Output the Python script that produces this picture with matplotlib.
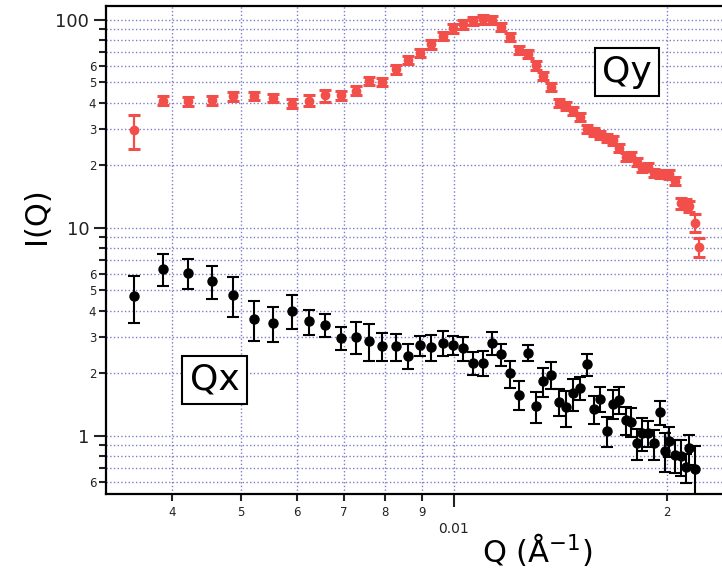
import matplotlib
matplotlib.use('Agg')
import matplotlib.pyplot as plt
from matplotlib.ticker import FixedLocator, FixedFormatter

# Q values (1/A); Qy has one more point at the high-Q end
q = [0.00354, 0.00388, 0.00421, 0.00455, 0.00488, 0.00522, 0.00556, 0.00590,
     0.00624, 0.00658, 0.00692, 0.00727, 0.00759, 0.00792, 0.00828, 0.00861,
     0.00895, 0.00929, 0.00964, 0.00998, 0.01031, 0.01065, 0.01098, 0.01131,
     0.01164, 0.01198, 0.01235, 0.01271, 0.01305, 0.01334, 0.01371, 0.01407,
     0.01439, 0.01472, 0.01506, 0.01540, 0.01578, 0.01609, 0.01643, 0.01678,
     0.01711, 0.01746, 0.01779, 0.01812, 0.01845, 0.01881, 0.01915, 0.01954,
     0.01985, 0.02013, 0.02051, 0.02089, 0.02123, 0.02148, 0.02189, 0.02219]

qy_I = [29.4, 40.9, 40.5, 41.1, 42.8, 43.0, 42.2, 39.5, 40.9, 43.3, 43.3, 45.6,
        50.9, 50.3, 57.7, 64.0, 69.2, 76.1, 83.8, 90.8, 94.9, 98.6, 100.3, 100.0,
        92.2, 82.6, 71.7, 68.4, 60.3, 53.6, 47.5, 39.9, 38.6, 36.6, 34.1, 29.8,
        29.0, 28.0, 27.0, 26.3, 24.2, 21.9, 22.2, 20.8, 19.4, 19.7, 18.3, 18.2,
        18.2, 18.1, 16.8, 13.1, 13.0, 12.7, 10.6, 8.07]
qy_err = [5.6, 2.0, 2.0, 2.0, 2.0, 2.0, 2.0, 2.0, 2.4, 2.9, 2.2, 2.2, 2.4, 2.4,
          2.6, 2.9, 3.1, 3.4, 3.8, 4.1, 4.3, 4.4, 4.5, 4.5, 4.1, 3.7, 3.2, 3.1,
          2.7, 2.4, 2.1, 1.8, 1.7, 1.6, 1.5, 1.3, 1.3, 1.3, 1.2, 1.2, 1.1, 1.0,
          1.0, 0.95, 0.9, 0.9, 0.85, 0.85, 0.85, 0.85, 0.8, 0.75, 0.75, 0.75,
          1.1, 0.85]

qx_I = [4.68, 6.37, 6.06, 5.54, 4.76, 3.65, 3.49, 4.00, 3.55, 3.42, 2.97, 3.00,
        2.87, 2.71, 2.69, 2.42, 2.72, 2.67, 2.81, 2.74, 2.64, 2.25, 2.25, 2.80,
        2.47, 2.00, 1.58, 2.51, 1.39, 1.83, 1.97, 1.46, 1.37, 1.60, 1.70, 2.21,
        1.35, 1.51, 1.06, 1.43, 1.49, 1.19, 1.17, 0.92, 1.03, 1.03, 0.92, 1.30,
        0.85, 0.95, 0.81, 0.80, 0.71, 0.87, 0.69]
qx_err = [1.18, 1.1, 1.0, 1.0, 1.02, 0.78, 0.66, 0.75, 0.5, 0.44, 0.38, 0.52,
          0.57, 0.41, 0.41, 0.33, 0.3, 0.37, 0.4, 0.29, 0.36, 0.28, 0.3, 0.35,
          0.31, 0.3, 0.25, 0.23, 0.24, 0.3, 0.29, 0.22, 0.27, 0.28, 0.21, 0.26,
          0.21, 0.21, 0.175, 0.23, 0.22, 0.185, 0.185, 0.155, 0.185, 0.15, 0.15,
          0.17, 0.18, 0.155, 0.15, 0.157, 0.113, 0.143, 0.2]

y_major = [1, 10, 100]
y_minor = [m * d for d in (0.1, 1, 10) for m in range(2, 10)]
y_minor_lab = ['%d' % m if m <= 6 else '' for d in (0.1, 1, 10) for m in range(2, 10)]
x_major = [0.01]
x_minor = [0.004, 0.005, 0.006, 0.007, 0.008, 0.009, 0.02]
x_minor_lab = ['4', '5', '6', '7', '8', '9', '2']

red = '#f24e4a'

fig = plt.figure(figsize=(7.22, 5.71), dpi=100)
ax = fig.add_axes([0.1468, 0.1349, 0.8532, 0.8546])
ax.set_xscale('log')
ax.set_yscale('log')

ax.errorbar(q, qy_I, yerr=qy_err, fmt='o', color=red, ms=6, capsize=4.5,
            elinewidth=1.6, capthick=2.2, zorder=3)
ax.errorbar(q[:len(qx_I)], qx_I, yerr=qx_err, fmt='o', color='black', ms=6.5,
            capsize=4.5, elinewidth=1.5, capthick=1.5, zorder=3)

ax.set_xlim(0.003228, 0.02389)
ax.set_ylim(0.526, 116.4)

ax.yaxis.set_major_locator(FixedLocator(y_major))
ax.yaxis.set_major_formatter(FixedFormatter(['1', '10', '100']))
ax.yaxis.set_minor_locator(FixedLocator(y_minor))
ax.yaxis.set_minor_formatter(FixedFormatter(y_minor_lab))
ax.xaxis.set_major_locator(FixedLocator(x_major))
ax.xaxis.set_major_formatter(FixedFormatter(['0.01']))
ax.xaxis.set_minor_locator(FixedLocator(x_minor))
ax.xaxis.set_minor_formatter(FixedFormatter(x_minor_lab))

ax.tick_params(axis='y', which='major', length=9, width=1.5, labelsize=13, pad=3,
               colors='#222222')
ax.tick_params(axis='y', which='minor', length=5, width=1.5, labelsize=8.5, pad=2,
               colors='#222222')
ax.tick_params(axis='x', which='major', length=9, width=1.5, labelsize=10, pad=11,
               colors='#222222')
ax.tick_params(axis='x', which='minor', length=5, width=1.5, labelsize=8.5, pad=4,
               colors='#222222')

ax.grid(which='both', ls=':', color='#7c7cc8', lw=1)
ax.set_axisbelow(True)
for s in ['left', 'top', 'bottom']:
    ax.spines[s].set_linewidth(1.6)
ax.spines['right'].set_visible(False)

ax.set_ylabel('I(Q)', fontsize=22)
ax.yaxis.set_label_coords(-0.09, 0.57)
ax.set_xlabel('Q (Å$^{-1}$)', fontsize=22)
ax.xaxis.set_label_coords(0.70, -0.075)

box = dict(boxstyle='square,pad=0.2', facecolor='white', edgecolor='black', lw=1.5)
ax.text(0.846, 0.865, 'Qy', transform=ax.transAxes, fontsize=26,
        ha='center', va='center', bbox=box, zorder=5)
ax.text(0.176, 0.234, 'Qx', transform=ax.transAxes, fontsize=26,
        ha='center', va='center', bbox=box, zorder=5)

fig.savefig('out.png', dpi=100)
